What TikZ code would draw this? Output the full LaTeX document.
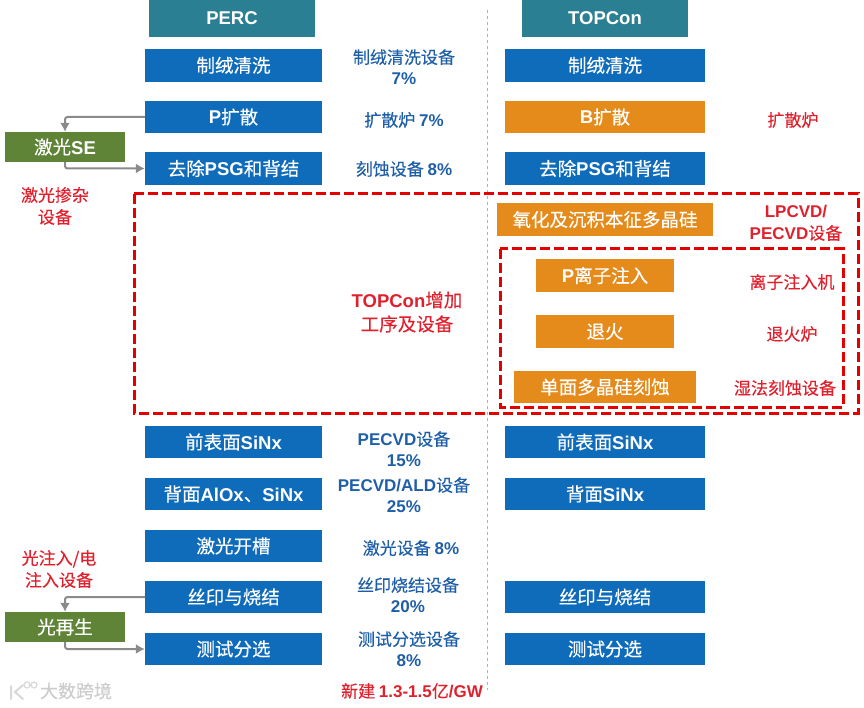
\documentclass[tikz,border=0pt]{standalone}
\usepackage{fontspec}
\setmainfont{Noto Sans CJK SC}[FakeBold=0.25]
\newfontfamily\lat{Liberation Sans}[BoldFont={Liberation Sans Bold}]
\newcommand{\la}[1]{{\lat\bfseries #1}}
\usetikzlibrary{arrows.meta}
\definecolor{bluebox}{HTML}{0F6CBB}
\definecolor{tealbox}{HTML}{2B7F92}
\definecolor{orangebox}{HTML}{E58B1C}
\definecolor{greenbox}{HTML}{5F8438}
\definecolor{redtxt}{HTML}{E0202C}
\definecolor{bluetxt}{HTML}{1F5FA8}
\definecolor{arrowgray}{HTML}{8A8A8A}
\tikzset{
 bx/.style={anchor=center,inner sep=0pt,text=white,font=\fontsize{18.5}{20}\selectfont,align=center},
 proc/.style={bx,fill=bluebox,minimum width=177pt,minimum height=32.5pt},
 procr/.style={bx,fill=bluebox,minimum width=200pt,minimum height=32.5pt},
 hdr/.style={bx,fill=tealbox,minimum width=166pt,minimum height=37pt},
 orng/.style={bx,fill=orangebox},
 grn/.style={bx,fill=greenbox,minimum width=120pt,minimum height=30pt},
 bl/.style={text=bluetxt,align=center,inner sep=0pt,font=\fontsize{17}{21}\selectfont},
 rd/.style={text=redtxt,align=center,inner sep=0pt,font=\fontsize{17}{22}\selectfont},
 dbox/.style={draw=red!90!black,line width=3pt,dash pattern=on 10pt off 4pt},
 arr/.style={draw=arrowgray,line width=2pt,rounded corners=2.5pt,-{Latex[length=9pt,width=10pt]}},
}
\begin{document}
\begin{tikzpicture}[x=1pt,y=-1pt]
\useasboundingbox (0,0) rectangle (864,708);
\draw[gray!60,dashed,line width=0.8pt] (487,10) -- (487,690);
\node[hdr] (h1) at (232,18.5) {\la{PERC}};
\node[hdr] (h2) at (605,18.5) {\la{TOPCon}};
% left column
\node[proc] (a1) at (233.5,65.5) {制绒清洗};
\node[proc] (a2) at (233.5,117) {\la{P}扩散};
\node[proc] (a3) at (233.5,168.5) {去除\la{PSG}和背结};
\node[proc] (a4) at (233.5,442) {前表面\la{SiNx}};
\node[proc] (a5) at (233.5,494) {背面\la{AlOx}、\la{SiNx}};
\node[proc] (a6) at (233.5,546) {激光开槽};
\node[proc] (a7) at (233.5,597) {丝印与烧结};
\node[proc] (a8) at (233.5,649) {测试分选};
% right column
\node[procr] (b1) at (605,65.5) {制绒清洗};
\node[bx,fill=orangebox,minimum width=200pt,minimum height=32.5pt] (b2) at (605,117) {\la{B}扩散};
\node[procr] (b3) at (605,168.5) {去除\la{PSG}和背结};
\node[procr] (b4) at (605,442) {前表面\la{SiNx}};
\node[procr] (b5) at (605,494) {背面\la{SiNx}};
\node[procr] (b7) at (605,597) {丝印与烧结};
\node[procr] (b8) at (605,649) {测试分选};
% orange
\node[orng,minimum width=216pt,minimum height=33pt] (c1) at (605,219.5) {氧化及沉积本征多晶硅};
\node[orng,minimum width=138pt,minimum height=33pt] (c2) at (605,275.5) {\la{P}离子注入};
\node[orng,minimum width=138pt,minimum height=33pt] (c3) at (605,331.5) {退火};
\node[orng,minimum width=182pt,minimum height=32pt] (c4) at (605,387) {单面多晶硅刻蚀};
% green
\node[grn] (g1) at (65,147) {激光\la{SE}};
\node[grn] (g2) at (65,627) {光再生};
% arrows
\draw[arr] (a2.west) -| (g1.north);
\draw[arr] (g1.south) |- (a3.west);
\draw[arr] (a7.west) -| (g2.north);
\draw[arr] (g2.south) |- (a8.west);
% dashed frames
\draw[dbox] (134,194) rectangle (858,413);
\draw[dbox] (500,249) rectangle (843,407);
% blue labels
\node[bl] (l1) at (404,67) {制绒清洗设备\\\la{7\%}};
\node[bl] (l2) at (404,120) {扩散炉 \la{7\%}};
\node[bl] (l3) at (404,169) {刻蚀设备 \la{8\%}};
\node[bl] (l4) at (404,449) {\la{PECVD}设备\\\la{15\%}};
\node[bl] (l5) at (404,495) {\la{PECVD/ALD}设备\\\la{25\%}};
\node[bl] (l6) at (411,548) {激光设备 \la{8\%}};
\node[bl] (l7) at (408,595) {丝印烧结设备\\\la{20\%}};
\node[bl] (l8) at (409,649) {测试分选设备\\\la{8\%}};
% red labels
\node[rd] (r1) at (793,120) {扩散炉};
\node[rd] (r2) at (796,223) {\la{LPCVD/}\\\la{PECVD}设备};
\node[rd] (r3) at (792,282) {离子注入机};
\node[rd] (r4) at (792,334) {退火炉};
\node[rd] (r5) at (785,388) {湿法刻蚀设备};
\node[rd,font=\fontsize{18.5}{24}\selectfont] (r6) at (407,312) {\la{TOPCon}增加\\工序及设备};
\node[rd] (r7) at (55,206) {激光掺杂\\设备};
\node[rd] (r8) at (59,569) {光注入/电\\注入设备};
\node[rd] (r9) at (412,691) {新建 \la{1.3-1.5}亿\la{/GW}};
% watermark
\node[text=gray!40,inner sep=0pt,font=\fontsize{18}{20}\selectfont] (w) at (76,691) {大数跨境};
\draw[gray!30,line width=2pt,line cap=round] (11,686) -- (11,699) (23,685) -- (15,692) -- (23,699);
\draw[gray!30,line width=1.2pt] (27,685) circle (3pt) (34,685) circle (3pt);
\end{tikzpicture}
\end{document}
